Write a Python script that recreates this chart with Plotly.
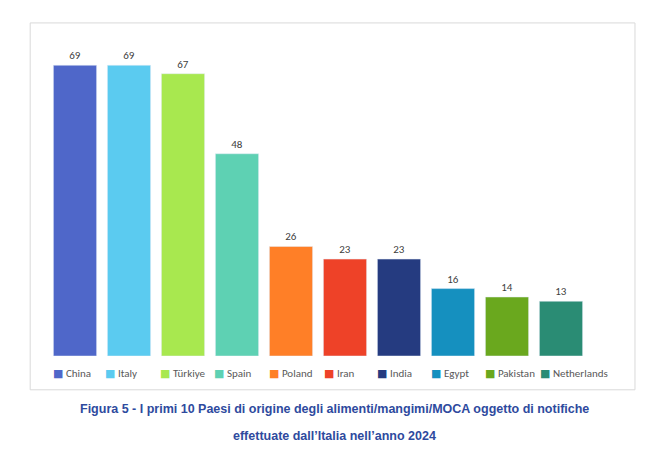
import plotly.graph_objects as go

countries = ["China", "Italy", "Türkiye", "Spain", "Poland", "Iran", "India", "Egypt", "Pakistan", "Netherlands"]
values = [69, 69, 67, 48, 26, 23, 23, 16, 14, 13]
colors = ["#4F67C9", "#5BCBF0", "#A8E84F", "#5ED1B3", "#FF7F27",
          "#EE4228", "#253B80", "#1590BF", "#6AA81E", "#2A8C74"]
legend_px = [43, 95, 150, 204, 259, 314, 367, 421, 475, 530]

fig = go.Figure()
fig.add_trace(go.Bar(x=countries, y=values, marker_color=colors, width=0.8,
                     text=values, textposition="outside", showlegend=False,
                     textfont=dict(size=11, color="#404040"), cliponaxis=False))

legend_ann = []
for c, col, px in zip(countries, colors, legend_px):
    legend_ann.append(dict(
        xref="paper", yref="paper", x=(px - 40) / 540, y=-0.054,
        xanchor="left", yanchor="middle", showarrow=False,
        text=f"<span style='color:{col}'>■</span> {c}",
        font=dict(size=11, color="#595959")))

fig.update_layout(
    width=649, height=460,
    paper_bgcolor="white", plot_bgcolor="white",
    margin=dict(l=40, r=69, t=32, b=112, autoexpand=False),
    font=dict(family="Calibri, Carlito, DejaVu Sans", color="#595959"),
    xaxis=dict(showticklabels=False, showgrid=False, range=[-0.5, 9.5]),
    yaxis=dict(range=[0, 75], visible=False),
    shapes=[dict(type="rect", xref="paper", yref="paper", x0=-0.033, x1=1.087,
                 y0=-0.107, y1=1.054, line=dict(color="#D9D9D9", width=1))],
    annotations=legend_ann + [
        dict(xref="paper", yref="paper", x=0.53, y=-0.196, showarrow=False,
             text="<b>Figura 5 - I primi 10 Paesi di origine degli alimenti/mangimi/MOCA oggetto di notifiche</b>",
             font=dict(family="Liberation Sans, Arial", size=12.5, color="#2E4A9E")),
        dict(xref="paper", yref="paper", x=0.53, y=-0.282, showarrow=False,
             text="<b>effettuate dall’Italia nell’anno 2024</b>",
             font=dict(family="Liberation Sans, Arial", size=12.5, color="#2E4A9E")),
    ],
)

fig.write_html("out.html")
